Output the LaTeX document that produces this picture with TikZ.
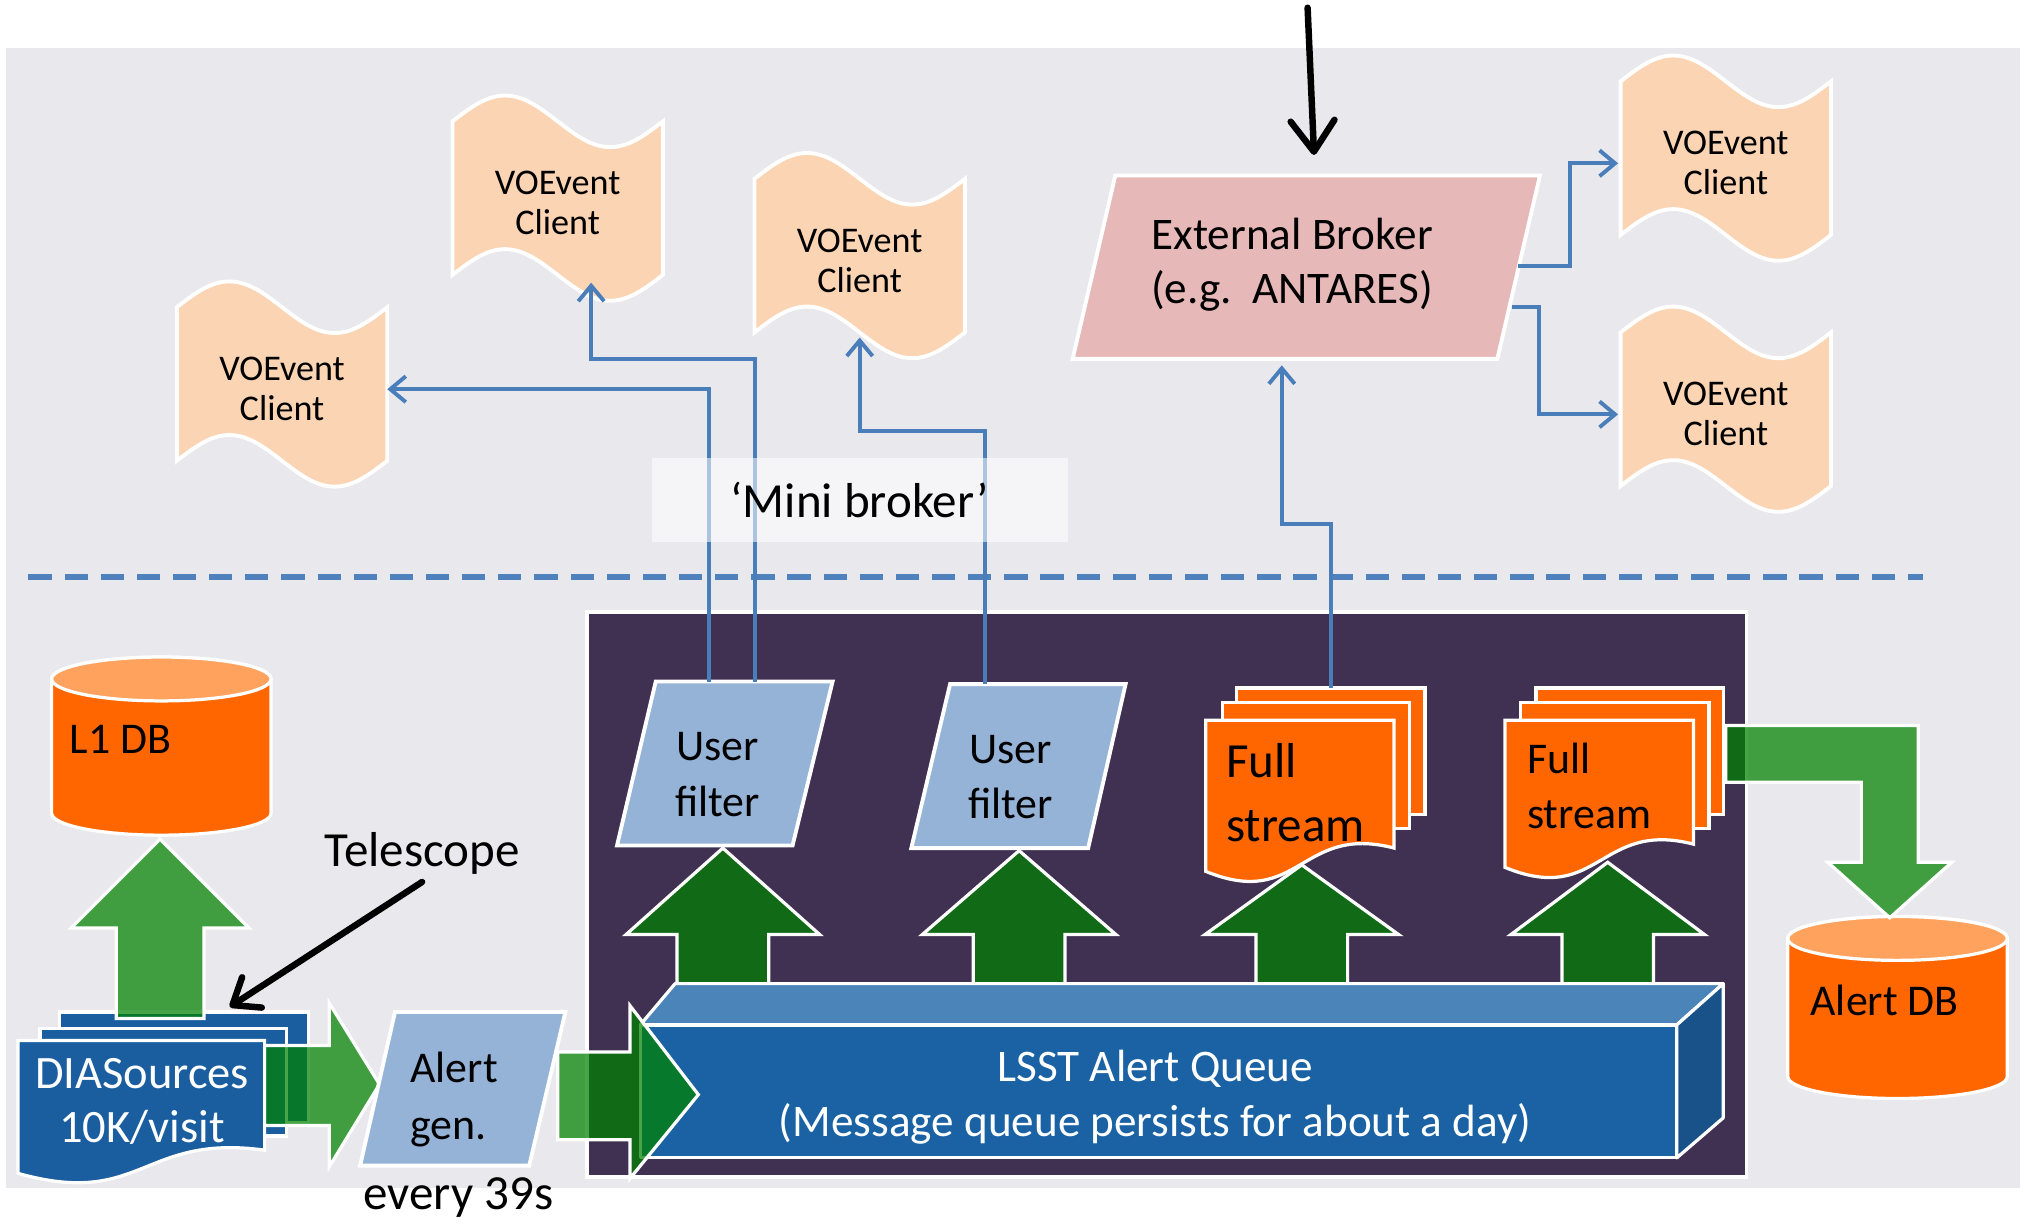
\documentclass[tikz,border=0pt]{standalone}
\usepackage{fontspec}
\setmainfont{Carlito}
\usetikzlibrary{arrows.meta}
\definecolor{bggray}{HTML}{E9E8EC}
\definecolor{purp}{HTML}{403152}
\definecolor{lblue}{HTML}{4A7EBB}
\definecolor{dashblue}{HTML}{4F81BD}
\definecolor{peach}{HTML}{FBD4B4}
\definecolor{pinkb}{HTML}{E6B9B8}
\definecolor{filt}{HTML}{95B3D7}
\definecolor{orng}{HTML}{FF6600}
\definecolor{orngtop}{HTML}{FFA25E}
\definecolor{grn}{RGB}{0,130,0}
\definecolor{diablue}{HTML}{1B5EA0}
\definecolor{qfront}{HTML}{1A62A3}
\definecolor{qtop}{HTML}{4A84B9}
\definecolor{qside}{HTML}{185289}

\newcommand{\voc}[3]{%
  \path[vcshape] (#2-81.5,#3-59.5) sin (#2-40.75,#3-79.5) cos (#2,#3-59.5)
     sin (#2+40.75,#3-39.5) cos (#2+81.5,#3-59.5) -- (#2+81.5,#3+59.5)
     sin (#2+40.75,#3+79.5) cos (#2,#3+59.5) sin (#2-40.75,#3+39.5)
     cos (#2-81.5,#3+59.5) -- cycle;
  \node[vctext] (#1) at (#2,#3+4) {VOEvent\\Client};}
\newcommand{\cylshape}[4]{%
  \path[cylbody] (#1-#4,#2) -- (#1-#4,#3)
     arc[start angle=180,end angle=360,x radius=#4pt,y radius=17pt]
     -- (#1+#4,#2) arc[start angle=0,end angle=180,x radius=#4pt,y radius=17pt] -- cycle;
  \path[cyltop] (#1,#2) ellipse [x radius=#4pt, y radius=17pt];}
\newcommand{\uparr}[6]{%
  \path[gr] (#1,#2) -- (#1+#5,#3) -- (#1+#6,#3) -- (#1+#6,#4) -- (#1-#6,#4)
     -- (#1-#6,#3) -- (#1-#5,#3) -- cycle;}

\begin{document}
\begin{tikzpicture}[x=1pt,y=-1pt,
  every node/.style={inner sep=0pt, outer sep=0pt},
  boxnode/.style={draw=none, fill=none},
  bl/.style={draw=lblue, line width=3pt, -{Straight Barb[length=12pt,width=20pt]}},
  blk/.style={draw=black, line width=5pt, line cap=round, -{Straight Barb[round,length=24pt,width=34pt]}},
  blks/.style={draw=black, line width=5pt, line cap=round, -{Straight Barb[round,length=18pt,width=28pt]}},
  dashln/.style={draw=dashblue, line width=4pt, dash pattern=on 18pt off 10pt},
  vcshape/.style={fill=peach, draw=white, line width=3pt},
  vctext/.style={minimum width=163pt, minimum height=119pt, align=center, font=\fontsize{28}{31}\selectfont},
  ebshape/.style={fill=pinkb, draw=white, line width=3pt},
  ufshape/.style={fill=filt, draw=white, line width=3pt},
  fsl/.style={fill=orng, draw=white, line width=2.5pt},
  dial/.style={fill=diablue, draw=white, line width=2.5pt},
  cylbody/.style={fill=orng, draw=white, line width=2.5pt},
  cyltop/.style={fill=orngtop, draw=white, line width=2.5pt},
  gr/.style={fill=grn, fill opacity=0.72, draw=white, line width=2.5pt, line join=miter},
  qface/.style={draw=white, line width=2.5pt, line join=round},
  t34/.style={font=\fontsize{34}{43}\selectfont},
  t38/.style={font=\fontsize{38}{46}\selectfont}]

\path[use as bounding box, fill=white] (0,0) rectangle (1568,948);
\fill[bggray] (5,37) rectangle (1565,920);
\draw[dashln] (22,447) -- (1490,447);

% VOEvent clients
\voc{vc1}{218.5}{297.5}
\voc{vc2}{432}{153.5}
\voc{vc3}{666}{198}
\voc{vc4}{1337}{122.5}
\voc{vc5}{1337}{317}

% External broker
\path[ebshape] (864,136) -- (1193,136) -- (1160,278) -- (831,278) -- cycle;
\node[boxnode, minimum width=362pt, minimum height=142pt] (eb) at (1012,207) {};
\node[align=center, font=\fontsize{35}{42}\selectfont] (ebt) at (1001,205) {External Broker\\(e.g.\ \ ANTARES)};

% purple area
\path[fill=purp, draw=white, line width=3pt] (455,474) rectangle (1353,912);

% green up arrows inside
\uparr{560}{657}{724}{763}{75}{35.5}
\uparr{789.5}{659}{724}{763}{75}{35.5}
\uparr{1008.5}{670}{724}{763}{75}{35.5}
\uparr{1245.5}{668}{724}{763}{75}{35.5}

% user filters
\path[ufshape] (508,528) -- (645,528) -- (614,655) -- (478,655) -- cycle;
\node[boxnode, minimum width=137pt, minimum height=127pt] (uf1) at (561.5,591.5) {};
\node[t34, align=center] (uf1t) at (556,600) {User\\filter};
\path[ufshape] (736,530) -- (872,530) -- (843,657) -- (706,657) -- cycle;
\node[boxnode, minimum width=136pt, minimum height=127pt] (uf2) at (804,593.5) {};
\node[t34, align=center] (uf2t) at (783,602) {User\\filter};

% full streams
\node[fsl, minimum width=146pt, minimum height=98pt] (fs1) at (1031,582) {};
\node[fsl, minimum width=145pt, minimum height=98pt] (fs1m) at (1019.5,593) {};
\path[fsl] (934,558) -- (1080,558) -- (1080,657) .. controls (1007,638) and (1007,705) .. (934,675) -- cycle;
\node[anchor=west, align=left, font=\fontsize{38}{50}\selectfont] (fs1t) at (950,614) {Full\\stream};
\node[fsl, minimum width=145pt, minimum height=98pt] (fs2) at (1262.5,582) {};
\node[fsl, minimum width=146pt, minimum height=98pt] (fs2m) at (1251,593) {};
\path[fsl] (1166,558) -- (1312,558) -- (1312,654) .. controls (1239,635) and (1239,702) .. (1166,672) -- cycle;
\node[anchor=west, align=left, font=\fontsize{34}{43}\selectfont] (fs2t) at (1183,609) {Full\\stream};

% queue
\path[qface, fill=qtop] (496,794) -- (523,762) -- (1335,762) -- (1299,794) -- cycle;
\path[qface, fill=qside] (1299,794) -- (1335,762) -- (1335,866) -- (1299,897) -- cycle;
\path[qface, fill=qfront] (496,794) rectangle (1299,897);
\node[align=center, text=white, font=\fontsize{35}{43}\selectfont] (queue) at (895,850) {LSST Alert Queue\\(Message queue persists for about a day)};

% Alert DB and bent arrow
\cylshape{1470}{727}{834}{85}
\node[t34] (adb) at (1460,775) {Alert DB};
\path[gr] (1337,562) -- (1486,562) -- (1486,668) -- (1512,668) -- (1464,711) -- (1416,668)
   -- (1442,668) -- (1442,606) -- (1337,606) -- cycle;

% L1 DB
\cylshape{125}{526}{630}{85}
\node[t34, anchor=west] (l1) at (54,573) {L1 DB};

% DIASources stack
\node[dial, minimum width=193pt, minimum height=86pt] (diab) at (142.5,827) {};
\node[dial, minimum width=191pt, minimum height=83pt] (diam) at (126.5,838.5) {};
\path[dial] (14,806) -- (205,806) -- (205,891) .. controls (110,878) and (110,936) .. (14,909) -- cycle;
\node[align=center, text=white, font=\fontsize{36}{42}\selectfont] (dia) at (110,853) {DIASources\\10K/visit};

% green arrows left
\uparr{124}{650}{719}{789}{69}{34}
\path[gr] (205,810) -- (255,810) -- (255,777) -- (294,840) -- (255,904) -- (255,872) -- (205,872) -- cycle;
\path[gr] (432,815) -- (488,815) -- (488,779) -- (541,848) -- (488,913) -- (488,883) -- (432,883) -- cycle;

% alert gen
\path[ufshape] (306,784) -- (438,784) -- (410,903) -- (279,903) -- cycle;
\node[anchor=west, align=left, font=\fontsize{34}{44}\selectfont] (ag) at (318,852) {Alert\\gen.};
\node[t38] (ev) at (355,928) {every 39s};

% blue connectors
\draw[bl] ([xshift=-12.5pt]uf1.north) |- (vc1.east);
\draw[bl] ([xshift=23.5pt]uf1.north) -- ++(0,-250) -| ([xshift=26pt,yshift=-2pt]vc2.south);
\draw[bl] ([xshift=-41pt]uf2.north) -- ++(0,-196) -| (vc3.south);
\draw[bl] (fs1.north) -- ++(0,-127) -| ([xshift=-19pt,yshift=-5pt]eb.south);
\draw[bl] ([xshift=-17pt,yshift=1pt]eb.east) -- ++(40,0) |- ([xshift=-2pt]vc4.west);
\draw[bl] ([xshift=-22pt,yshift=-31pt]eb.east) -- ++(21,0) |- ([xshift=-2pt]vc5.west);

% mini broker label
\fill[white, opacity=0.55] (505,355) rectangle (827,420);
\node[t38] (mb) at (666,387) {‘Mini broker’};

% black arrows
\coordinate (topin) at (1013,6);
\draw[blk] (topin) -- ([xshift=6pt,yshift=16pt]eb.north);
\node[t38] (tel) at (327,661) {Telescope};
\draw[blks] ([yshift=-6pt]tel.south) -- ([xshift=35.5pt,yshift=4pt]diab.north);
\end{tikzpicture}
\end{document}
